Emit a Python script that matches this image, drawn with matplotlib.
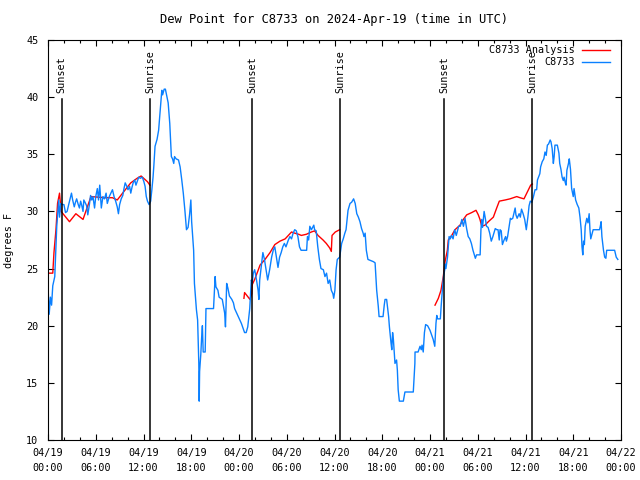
import numpy as np
import matplotlib
matplotlib.use('Agg')
import matplotlib.pyplot as plt
from matplotlib.ticker import FixedLocator, MultipleLocator

# hours since 2024-04-19 00:00 UTC
obs_hours = [0.0, 0.15, 0.3, 0.45, 0.6, 0.85, 1.0, 1.1, 1.25, 1.35, 1.45, 1.6, 1.8, 2.0, 2.2, 2.4, 2.6,
             2.85, 2.95, 3.1, 3.3, 3.45, 3.6, 3.8, 3.95, 4.1, 4.25, 4.4, 4.5, 4.65, 4.85, 5.0, 5.2, 5.35,
             5.5, 5.65, 5.85, 6.0, 6.2, 6.35, 6.5, 6.7, 6.9, 7.1, 7.3, 7.45, 7.7, 7.9, 8.1, 8.3, 8.5, 8.7,
             8.85, 9.0, 9.2, 9.4, 9.55, 9.7, 9.9, 10.05, 10.25, 10.4, 10.55, 10.7, 10.9, 11.05, 11.2, 11.4,
             11.6, 11.85, 12.05, 12.2, 12.35, 12.5, 12.7, 12.9, 13.05, 13.2,
             13.3, 13.45, 13.7, 13.9, 14.1, 14.3, 14.4, 14.6, 14.75, 15.1, 15.3, 15.5, 15.65, 15.8, 15.9,
             16.1, 16.4, 16.6, 16.8, 17.0, 17.2, 17.4, 17.6, 17.8, 17.95, 18.05, 18.3, 18.4, 18.5, 18.65,
             18.8, 18.95, 19.0, 19.05, 19.2, 19.3, 19.4, 19.5, 19.75, 19.85, 20.8, 21.0, 21.1, 21.35, 21.5,
             21.9, 22.2, 22.3, 22.45, 22.6, 22.8, 23.1, 23.3, 23.45, 23.9, 24.3, 24.7, 24.9, 25.1, 25.35,
             25.45, 25.55, 25.65, 25.8,
             25.97, 26.2, 26.4, 26.5, 26.6, 26.75, 27.0, 27.2, 27.4, 27.6, 27.85, 28.1, 28.3, 28.5, 28.7,
             28.9, 29.1, 29.3, 29.5, 29.7, 29.9, 30.2, 30.4, 30.6, 30.8, 31.0, 31.2, 31.4, 31.6, 31.8, 32.5,
             32.6, 32.75, 32.9, 33.1, 33.4, 33.5, 33.7, 33.9, 34.1, 34.3, 34.6, 34.8, 35.0, 35.2, 35.4,
             35.6, 35.8, 35.9, 36.05, 36.2, 36.35, 36.65, 36.9, 37.1, 37.3, 37.45,
             37.7, 37.95, 38.15, 38.4, 38.6, 38.8, 39.0, 39.2, 39.4, 39.6, 39.7, 39.85, 40.0, 40.2, 40.9,
             41.1, 41.3, 41.5, 41.6, 42.1, 42.25, 42.35, 42.55, 42.7, 42.8, 42.9, 43.1, 43.2, 43.3, 43.4,
             43.6, 43.8, 43.9, 44.0, 44.15, 44.65, 44.85, 45.9, 46.1, 46.12, 46.5, 46.75, 46.9, 47.0,
             47.15, 47.3, 47.45, 47.7, 48.0, 48.2, 48.4, 48.6, 48.75, 48.85, 48.95, 49.3, 49.4, 49.55,
             49.7, 49.85, 49.9, 50.0, 50.2, 50.3, 50.4,
             50.55, 50.7, 50.9, 51.1, 51.3, 51.6, 51.8, 52.0, 52.2, 52.4, 52.6, 52.8, 53.0, 53.2, 53.4,
             53.7, 53.85, 54.3, 54.4, 54.5, 54.6, 54.8, 54.95, 55.1, 55.3, 55.5, 55.7, 55.9, 56.2, 56.4,
             56.55, 56.7, 56.8, 56.95, 57.1, 57.25, 57.5, 57.6, 57.75, 57.9, 58.1, 58.2, 58.4, 58.7, 58.8,
             58.95, 59.2, 59.35, 59.5, 59.7, 59.9, 60.1, 60.3, 60.45, 60.6, 60.8, 61.0, 61.2, 61.4, 61.5,
             61.8, 61.9, 62.1, 62.3, 62.45, 62.6, 62.75, 62.9, 63.1, 63.2, 63.35, 63.5, 63.6, 63.7, 64.0,
             64.2, 64.3, 64.45, 64.6, 64.75, 64.85, 65.0, 65.1, 65.2, 65.4, 65.5, 65.65, 65.8, 66.0, 66.1,
             66.2, 66.3, 66.5, 66.7, 66.85, 67.0, 67.1, 67.2, 67.3, 67.4, 67.5, 67.7, 67.85, 68.0, 68.1,
             68.2, 68.35, 68.5, 69.3, 69.4, 69.5, 69.6, 69.8, 69.95, 70.1, 70.2, 71.2, 71.4, 71.6]
obs_dewpt = [23.5, 21.0, 22.5, 21.8, 23.5, 24.3, 26.9, 28.7, 30.1, 31.0, 29.5, 30.7, 30.6, 30.6, 29.9, 30.0, 30.6,
             31.3, 31.6, 31.0, 30.4, 30.8, 31.1, 30.6, 30.3, 30.9, 30.5, 30.0, 31.0, 30.8, 30.5, 29.7, 30.6, 31.4,
             31.0, 31.3, 30.3, 31.3, 32.0, 31.0, 32.3, 30.3, 31.3, 31.1, 31.6, 30.7, 31.3, 31.6, 31.9, 31.3, 30.9, 30.4,
             29.8, 30.6, 31.1, 31.4, 32.0, 32.5, 32.2, 31.9, 32.2, 31.6, 32.1, 32.5, 32.75, 32.3, 32.6, 33.0,
             32.9, 33.0, 32.6, 32.2, 31.3, 30.9, 30.6, 30.9, 31.9, 33.0,
             34.0, 35.7, 36.3, 37.1, 38.9, 40.6, 40.2, 40.7, 40.7, 39.5, 37.7, 34.8, 34.6, 34.2, 34.8,
             34.6, 34.5, 33.9, 32.8, 31.6, 30.1, 28.4, 28.6, 29.8, 31.0, 29.1, 26.6, 23.7, 22.8, 21.4,
             20.5, 16.7, 13.4, 16.0, 17.5, 18.9, 20.0, 17.7, 17.7, 21.5, 21.5, 24.3, 23.4, 23.1, 22.5,
             22.3, 21.1, 19.9, 23.7, 23.3, 22.6, 22.3, 22.0, 21.5, 20.8, 20.2, 19.4, 19.4, 19.9, 21.5,
             22.8, 24.0, 23.7, 24.6,
             24.9, 24.0, 23.1, 22.3, 24.0, 24.9, 26.4, 25.8, 24.9, 24.0, 24.9, 26.0, 26.6, 26.9, 26.0,
             25.1, 26.0, 26.4, 26.9, 27.2, 26.9, 27.5, 27.8, 27.6, 28.1, 28.4, 28.3, 27.8, 26.9, 26.6, 26.6,
             27.8, 27.5, 28.7, 28.4, 28.8, 28.4, 28.3, 26.9, 25.8, 25.0, 24.9, 24.3, 24.6, 23.7, 24.0,
             23.1, 22.8, 22.4, 23.1, 24.9, 25.8, 26.0, 27.2, 27.6, 28.1, 28.4,
             30.1, 30.7, 30.8, 31.1, 30.7, 29.8, 29.5, 29.1, 28.5, 28.1, 27.8, 28.1, 26.6, 25.8, 25.6,
             25.5, 23.1, 21.7, 20.8, 20.8, 21.8, 22.3, 22.3, 21.4, 20.8, 19.9, 18.5, 17.9, 19.4, 18.8,
             16.7, 17.0, 16.1, 14.4, 13.4, 13.4, 14.2, 14.2, 16.7, 17.7, 17.7, 18.2, 17.9, 18.3,
             17.7, 19.4, 20.1, 20.0, 19.6, 19.2, 18.8, 18.2, 20.2, 20.9, 20.6, 20.6, 21.7, 23.1,
             24.3, 24.9, 25.4, 25.0, 26.0, 26.9, 27.8,
             27.6, 27.9, 27.6, 28.4, 27.9, 28.7, 28.7, 29.3, 28.7, 29.4, 28.5, 27.8, 27.6, 27.2, 26.6,
             25.9, 26.2, 26.2, 28.4, 29.3, 28.6, 30.0, 29.4, 28.7, 28.6, 28.1, 27.4, 27.8, 28.5, 28.4,
             28.4, 27.5, 28.4, 28.3, 27.1, 27.4, 27.8, 27.4, 27.8, 28.5, 29.4, 29.3, 29.4, 30.3, 29.7,
             29.4, 29.8, 29.5, 30.2, 29.8, 29.3, 28.4, 29.5, 30.5, 30.9, 30.8, 31.3, 31.9, 31.9, 32.75,
             33.3, 33.9, 34.35, 34.6, 35.2, 34.9, 35.8, 35.9, 36.25, 36.1, 35.5, 34.2, 34.8, 35.8, 35.8,
             35.1, 34.2, 33.7, 33.0, 32.7, 33.0, 32.5, 32.3, 33.6, 34.2, 34.6, 33.7, 32.0, 31.3, 32.0,
             31.5, 31.0, 30.6, 30.3, 29.5, 28.4, 26.9, 26.2, 27.4, 27.1, 28.7, 29.4, 29.0, 29.8, 28.4,
             27.6, 28.0, 28.4, 28.4, 28.7, 29.1, 27.8, 26.6, 26.0, 25.9, 26.6, 26.6, 26.0, 25.8]

# analysis, nan marks the gaps
ana_hours = [0.2, 0.6, 0.75, 1.0, 1.2, 1.45, 1.65, 2.7, 3.5, 4.4, 5.4, 7.2, 8.1, 8.7, 9.6, 10.4, 11.2,
             11.7, 12.5, 12.8, 18.0,
             24.62, 24.7, 25.38, 25.6, 25.67, 26.0, 26.43, 26.64, 27.27, 27.9, 28.5, 29.15, 29.8, 30.2,
             30.6, 31.0, 31.5, 31.83, 32.46, 33.09, 33.5, 33.93, 34.56, 34.97, 35.4, 35.6, 35.69, 36.1,
             36.65, 42.0,
             48.63, 49.05, 49.38, 49.67, 49.89, 50.18, 50.3, 50.73, 51.14, 51.77, 52.19, 52.61, 53.24,
             53.78, 54.07, 54.28, 54.5, 54.91, 55.33, 55.96, 56.38, 56.71, 57.43, 58.05, 58.9, 59.31,
             59.81, 60.23, 60.65, 60.86]
ana_dewpt = [24.6, 24.6, 26.4, 28.4, 30.7, 31.6, 30.0, 29.1, 29.8, 29.3, 31.3, 31.2, 31.2, 31.0, 31.8, 32.5, 32.9,
             33.1, 32.6, 32.3, np.nan,
             22.4, 22.9, 22.3, 22.8, 23.6, 24.1, 24.9, 25.3, 25.8, 26.4, 27.1, 27.4, 27.6, 27.9,
             28.2, 28.1, 28.0, 27.9, 28.0, 28.2, 28.3, 27.9, 27.5, 27.2, 26.8, 26.5, 27.9, 28.2,
             28.4, np.nan,
             21.8, 22.4, 23.1, 24.3, 25.6, 26.6, 27.5, 27.9, 28.4, 28.8, 29.3, 29.7, 29.9,
             30.1, 29.7, 29.3, 28.7, 28.8, 29.1, 29.5, 30.3, 30.9, 31.0, 31.1, 31.3, 31.2,
             31.1, 31.7, 32.3, 32.4]

sun_hours = [1.7, 12.82, 25.65, 36.75, 49.8, 60.85]
sun_names = ['Sunset', 'Sunrise', 'Sunset', 'Sunrise', 'Sunset', 'Sunrise']

tick_hours = list(range(0, 73, 6))
tick_labels = ['04/19\n00:00', '04/19\n06:00', '04/19\n12:00', '04/19\n18:00',
               '04/20\n00:00', '04/20\n06:00', '04/20\n12:00', '04/20\n18:00',
               '04/21\n00:00', '04/21\n06:00', '04/21\n12:00', '04/21\n18:00',
               '04/22\n00:00']

plt.rcParams['font.family'] = ['DejaVu Sans Mono']
plt.rcParams['font.size'] = 7.3

fig = plt.figure(figsize=(6.4, 4.8), dpi=100)
ax = fig.add_axes([48/640, 1-440/480, 573/640, 400/480])

ax.plot(ana_hours, ana_dewpt, color='#ff0000', lw=1.0, label='C8733 Analysis')
ax.plot(obs_hours, obs_dewpt, color='#0a80ff', lw=1.0, label='C8733')

for h, name in zip(sun_hours, sun_names):
    ax.plot([h, h], [10, 39.8], color='black', lw=1.1, zorder=5)
    ax.text(h, 40.4, name, rotation=90, ha='center', va='bottom')

ax.set_xlim(0, 72)
ax.set_ylim(10, 45)
ax.xaxis.set_major_locator(FixedLocator(tick_hours))
ax.set_xticklabels(tick_labels, linespacing=1.55)
ax.xaxis.set_minor_locator(MultipleLocator(2))
ax.yaxis.set_major_locator(MultipleLocator(5))
ax.tick_params(which='both', direction='in', top=True, right=True, width=0.8)
ax.tick_params(which='major', length=4)
ax.tick_params(which='minor', length=2)
ax.tick_params(axis='x', which='major', pad=6)
ax.tick_params(axis='y', which='major', pad=7)
for s in ax.spines.values():
    s.set_linewidth(0.8)

ax.set_ylabel('degrees F', labelpad=9)
ax.set_title('Dew Point for C8733 on 2024-Apr-19 (time in UTC)', pad=12)

ax.legend(loc='upper right', frameon=False, markerfirst=False, handlelength=2.8,
          borderaxespad=0.1, labelspacing=0.2, handletextpad=0.7,
          bbox_to_anchor=(0.99, 1.0))

fig.savefig('out.png', dpi=100)
